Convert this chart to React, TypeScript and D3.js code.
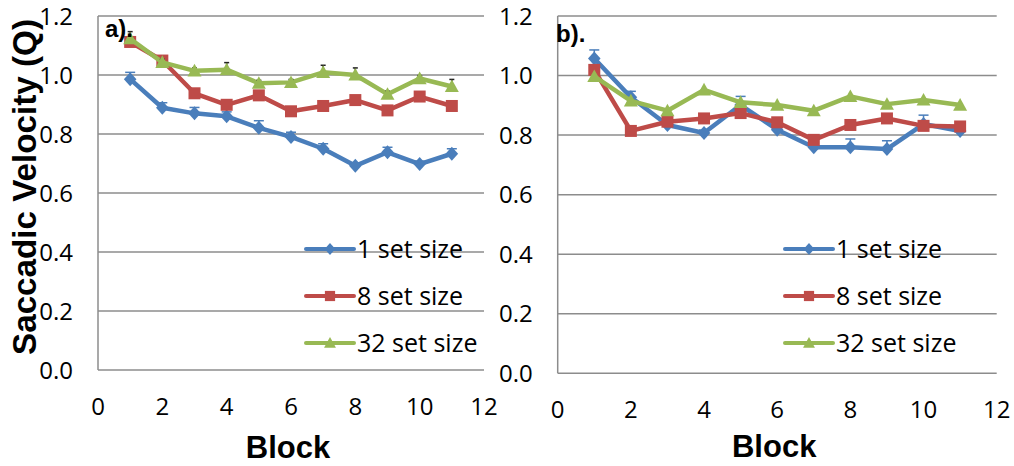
import React from "react";
import * as d3 from "d3";

// Block numbers shared by both panels
const blocks = [1, 2, 3, 4, 5, 6, 7, 8, 9, 10, 11];

// Panel a) mean saccadic velocity per block
const aSet1 = [0.986, 0.889, 0.87, 0.86, 0.821, 0.79, 0.75, 0.692, 0.738, 0.698, 0.733];
const aSet8 = [1.112, 1.049, 0.938, 0.899, 0.931, 0.877, 0.895, 0.915, 0.88, 0.927, 0.895];
const aSet32 = [1.123, 1.043, 1.014, 1.018, 0.972, 0.975, 1.009, 1.0, 0.935, 0.988, 0.961];
// Panel a) upper error (standard error)
const aErr1 = [0.023, 0.017, 0.02, 0.015, 0.024, 0.016, 0.017, 0.01, 0.017, 0.01, 0.017];
const aErr32 = [0.024, 0.01, 0.01, 0.024, 0.01, 0.01, 0.024, 0.024, 0.01, 0.01, 0.024];

// Panel b) mean saccadic velocity per block
const bSet1 = [1.057, 0.927, 0.834, 0.807, 0.901, 0.818, 0.759, 0.759, 0.753, 0.837, 0.814];
const bSet8 = [1.019, 0.814, 0.845, 0.856, 0.874, 0.843, 0.784, 0.834, 0.856, 0.831, 0.829];
const bSet32 = [0.997, 0.915, 0.882, 0.952, 0.91, 0.901, 0.882, 0.93, 0.904, 0.918, 0.901];
// Panel b) upper error (standard error)
const bErr1 = [0.029, 0.02, 0.01, 0.01, 0.029, 0.01, 0.01, 0.028, 0.028, 0.03, 0.01];

const xTicks = [0, 2, 4, 6, 8, 10, 12];
const yTicks = [0, 0.2, 0.4, 0.6, 0.8, 1.0, 1.2];
const seriesNames = ["1 set size", "8 set size", "32 set size"];

const BLUE = "#4a7ebb";
const RED = "#be4b48";
const GREEN = "#98b954";
const GRID = "#8c8c8c";
const TICK_FONT = "'Open Sans', sans-serif";
const BOLD_FONT = "'Liberation Sans', Arial, sans-serif";

type Shape = "diamond" | "square" | "triangle";

function Marker({ x, y, shape, color, s = 1 }: { x: number; y: number; shape: Shape; color: string; s?: number }) {
  if (shape === "diamond") {
    const r = 7 * s;
    return <path d={`M${x},${y - r}L${x + r * 0.9},${y}L${x},${y + r}L${x - r * 0.9},${y}Z`} fill={color} />;
  }
  if (shape === "square") {
    const h = 6 * s;
    return <rect x={x - h} y={y - h} width={2 * h} height={2 * h} fill={color} />;
  }
  const w = 7 * s;
  return <path d={`M${x},${y - w}L${x + w},${y + w * 0.8}L${x - w},${y + w * 0.8}Z`} fill={color} />;
}

type Series = { values: number[]; color: string; shape: Shape; err?: number[]; errColor?: string; capW?: number };

function Panel(props: {
  x0: number; x1: number; y0: number; y1: number;
  series: Series[]; tag: string; tagX: number; tagY: number;
  tickBaseline: number; blockBaseline: number;
  legendX: number;
}) {
  const { x0, x1, y0, y1, series } = props;
  const x = d3.scaleLinear().domain([0, 12]).range([x0, x1]);
  const y = d3.scaleLinear().domain([0, 1.2]).range([y0, y1]);
  const line = d3.line<number>().x((_, i) => x(blocks[i])).y((v) => y(v));
  const legendRows = [249, 296, 343];
  return (
    <g>
      {yTicks.map((t) => (
        <line key={"g" + t} x1={x0} x2={x1} y1={y(t)} y2={y(t)} stroke={GRID} strokeWidth={1.5} />
      ))}
      <line x1={x0} x2={x0} y1={y0} y2={y1} stroke={GRID} strokeWidth={1.5} />
      {yTicks.map((t) => (
        <text key={"yl" + t} x={x0 - 25} y={y(t)} dy="0.36em" textAnchor="end"
          fontFamily={TICK_FONT} fontSize={24} fill="#000">{t.toFixed(1)}</text>
      ))}
      {xTicks.map((t) => (
        <text key={"xl" + t} x={x(t)} y={props.tickBaseline} textAnchor="middle"
          fontFamily={TICK_FONT} fontSize={24} fill="#000">{t}</text>
      ))}
      <text x={(x0 + x1) / 2 - 3} y={props.blockBaseline} textAnchor="middle"
        fontFamily={BOLD_FONT} fontWeight="bold" fontSize={31} fill="#000">Block</text>
      {series.map((s, si) => (
        <g key={"s" + si}>
          <path d={line(s.values) || ""} fill="none" stroke={s.color} strokeWidth={4.5} strokeLinejoin="round" />
          {s.err && s.err.map((e, i) => {
            const cx = x(blocks[i]);
            const w = (s.capW ?? 10) / 2;
            return (
              <g key={"e" + i} stroke={s.errColor ?? s.color} strokeWidth={1.5}>
                <line x1={cx} x2={cx} y1={y(s.values[i])} y2={y(s.values[i] + e)} />
                <line x1={cx - w} x2={cx + w} y1={y(s.values[i] + e)} y2={y(s.values[i] + e)} />
              </g>
            );
          })}
          {s.values.map((v, i) => (
            <Marker key={i} x={x(blocks[i])} y={y(v)} shape={s.shape} color={s.color} />
          ))}
        </g>
      ))}
      <text x={props.tagX} y={props.tagY} fontFamily={BOLD_FONT} fontWeight="bold" fontSize={24} fill="#000">{props.tag}</text>
      {series.map((s, si) => (
        <g key={"lg" + si}>
          <line x1={props.legendX} x2={props.legendX + 48} y1={legendRows[si]} y2={legendRows[si]}
            stroke={s.color} strokeWidth={4} strokeLinecap="round" />
          <Marker x={props.legendX + 24} y={legendRows[si]} shape={s.shape} color={s.color} s={0.85} />
          <text x={props.legendX + 51} y={legendRows[si]} dy="0.36em" fontFamily={TICK_FONT} fontSize={25} fill="#000">
            {seriesNames[si]}
          </text>
        </g>
      ))}
    </g>
  );
}

export default function App() {
  return (
    <svg width={1014} height={466} style={{ position: "absolute", left: 0, top: 0, background: "#fff" }}>
      <rect width={1014} height={466} fill="#fff" />
      <Panel x0={98} x1={484} y0={370} y1={16}
        series={[
          { values: aSet1, color: BLUE, shape: "diamond", err: aErr1 },
          { values: aSet8, color: RED, shape: "square" },
          { values: aSet32, color: GREEN, shape: "triangle", err: aErr32, errColor: "#222", capW: 5 },
        ]}
        tag="a)." tagX={105} tagY={37} tickBaseline={415} blockBaseline={458} legendX={306} />
      <Panel x0={557.7} x1={996.7} y0={373.3} y1={16}
        series={[
          { values: bSet1, color: BLUE, shape: "diamond", err: bErr1 },
          { values: bSet8, color: RED, shape: "square" },
          { values: bSet32, color: GREEN, shape: "triangle" },
        ]}
        tag="b)." tagX={556} tagY={42} tickBaseline={418} blockBaseline={457} legendX={785} />
      <text transform="translate(36,187) rotate(-90)" textAnchor="middle"
        fontFamily={BOLD_FONT} fontWeight="bold" fontSize={33} textLength={336} lengthAdjust="spacingAndGlyphs"
        fill="#000">Saccadic Velocity (Q)</text>
    </svg>
  );
}
